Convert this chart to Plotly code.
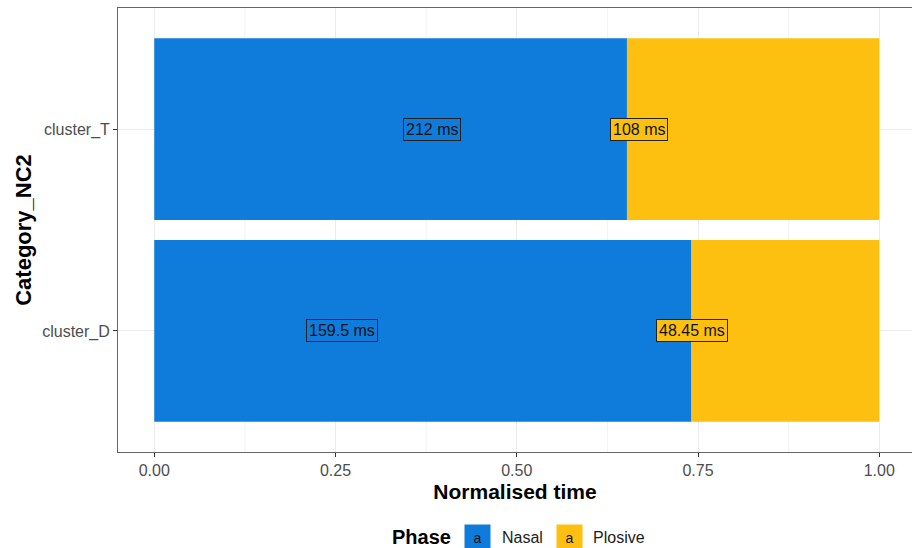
import plotly.graph_objects as go

categories = ["cluster_D", "cluster_T"]
nasal_share = [0.741, 0.652]
plosive_share = [0.259, 0.348]
nasal_ms = ["159.5 ms", "212 ms"]
plosive_ms = ["48.45 ms", "108 ms"]
nasal_label_x = [0.259, 0.383]
plosive_label_x = [0.742, 0.669]
x_ticks = [0.0, 0.25, 0.5, 0.75, 1.0]
x_tick_labels = ["0.00", "0.25", "0.50", "0.75", "1.00"]
minor_ticks = [0.125, 0.375, 0.625, 0.875]
legend_names = ["Nasal", "Plosive"]

BLUE = "#0F7CDC"
YELLOW = "#FDC010"
FONT = "Liberation Sans, Arial, sans-serif"

W, H = 912, 548
ml, mr, mt, mb = 118, 0, 8, 96
PW, PH = W - ml - mr, H - mt - mb


def px_x(p):
    return (p - ml) / PW


def px_y(p):
    return (H - mb - p) / PH


fig = go.Figure()
fig.add_trace(go.Bar(y=categories, x=nasal_share, orientation="h", name="Nasal",
                     marker=dict(color=BLUE, line=dict(width=0)), showlegend=False))
fig.add_trace(go.Bar(y=categories, x=plosive_share, orientation="h", name="Plosive",
                     base=nasal_share,
                     marker=dict(color=YELLOW, line=dict(width=0)), showlegend=False))

for cat, xv, txt in zip(categories, nasal_label_x, nasal_ms):
    fig.add_annotation(x=xv, y=cat, text=txt, showarrow=False, xref="x", yref="y",
                       font=dict(family=FONT, size=16, color="#111"),
                       bgcolor=BLUE, bordercolor="#222", borderwidth=1, borderpad=2)
for cat, xv, txt in zip(categories, plosive_label_x, plosive_ms):
    fig.add_annotation(x=xv, y=cat, text=txt, showarrow=False, xref="x", yref="y",
                       font=dict(family=FONT, size=16, color="#111"),
                       bgcolor=YELLOW, bordercolor="#222", borderwidth=1, borderpad=2)

for v in minor_ticks:
    fig.add_shape(type="line", xref="x", yref="paper", x0=v, x1=v, y0=0, y1=1,
                  line=dict(color="#F3F3F3", width=1), layer="below")

# ggplot-style legend at the bottom
ly = 537
fig.add_annotation(x=px_x(421), y=px_y(ly), xref="paper", yref="paper", text="<b>Phase</b>",
                   xanchor="center", yanchor="middle",
                   showarrow=False, font=dict(family=FONT, size=20, color="black"))
for name, col, kx, tx in zip(legend_names, [BLUE, YELLOW], [477, 569], [522, 619]):
    fig.add_annotation(x=px_x(kx), y=px_y(ly + 1), xref="paper", yref="paper", text="a",
                       xanchor="center", yanchor="middle",
                       showarrow=False, width=23, height=24, bgcolor=col,
                       font=dict(family=FONT, size=14, color="#111"))
    fig.add_annotation(x=px_x(tx), y=px_y(ly), xref="paper", yref="paper", text=name,
                       xanchor="center", yanchor="middle",
                       showarrow=False, font=dict(family=FONT, size=16, color="#222"))

fig.update_layout(
    width=W, height=H,
    margin=dict(l=ml, r=mr, t=mt, b=mb),
    plot_bgcolor="white", paper_bgcolor="white",
    barmode="overlay", bargap=0.1,
    showlegend=False,
    font=dict(family=FONT),
    xaxis=dict(range=[-0.05, PW / 725 - 0.05], tickvals=x_ticks, ticktext=x_tick_labels,
               showgrid=True, gridcolor="#EBEBEB", gridwidth=1, zeroline=False,
               ticks="outside", ticklen=4, tickcolor="#333",
               tickfont=dict(family=FONT, size=16, color="#4D4D4D"),
               title=dict(text="<b>Normalised time</b>",
                          font=dict(family=FONT, size=21, color="black"), standoff=6),
               showline=True, linecolor="#666", mirror=True),
    yaxis=dict(categoryorder="array", categoryarray=categories, range=[-0.6, 1.6],
               showgrid=True, gridcolor="#EBEBEB", zeroline=False,
               ticks="outside", ticklen=4, tickcolor="#333",
               tickfont=dict(family=FONT, size=16, color="#4D4D4D"),
               title=dict(text="<b>Category_NC2</b>",
                          font=dict(family=FONT, size=22, color="black"), standoff=4),
               showline=True, linecolor="#666", mirror=True),
)

fig.write_html("out.html", config={"displayModeBar": False})

with open("out.html", "r", encoding="utf-8") as f:
    html = f.read()
html = html.replace("<head>", "<head><style>html,body{margin:0;padding:0;overflow:hidden;}</style>", 1)
with open("out.html", "w", encoding="utf-8") as f:
    f.write(html)
